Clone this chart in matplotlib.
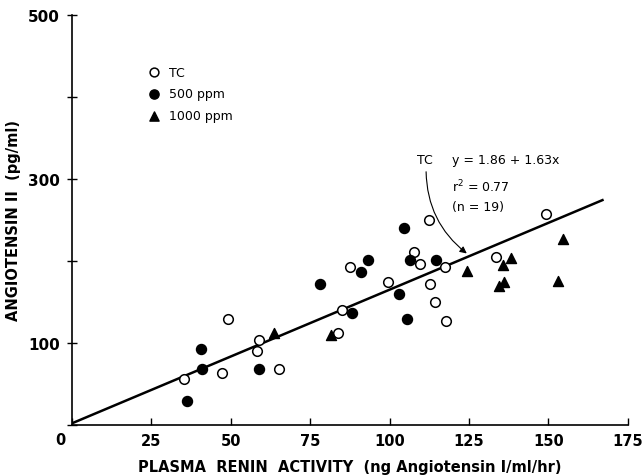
import matplotlib
matplotlib.use("Agg")
import matplotlib.pyplot as plt
import numpy as np

# TC (control) group
tc_x = [35.3, 49.1, 47.2, 58.9, 58.2, 65.3, 83.9, 84.9, 87.6, 99.6,
        107.6, 109.5, 112.5, 112.6, 114.4, 117.5, 117.7, 133.4, 149.1]
tc_y = [56.2, 129.5, 63.1, 103.4, 89.6, 68.0, 112.4, 140.5, 192.2, 174.3,
        210.5, 196.3, 249.6, 172.2, 149.4, 192.6, 126.2, 204.4, 257.7]

# 500 ppm group
p500_x = [36.3, 40.7, 41.0, 58.8, 78.2, 88.3, 91.1, 93.2, 103.1, 104.5,
          105.4, 106.6, 114.6]
p500_y = [29.7, 92.8, 68.0, 68.0, 171.8, 136.8, 186.9, 200.7, 159.2, 240.2,
          129.5, 201.5, 200.7]

# 1000 ppm group
p1000_x = [63.5, 81.6, 124.4, 134.3, 136.1, 135.7, 138.3, 153.0, 154.6]
p1000_y = [112.4, 109.9, 187.3, 169.4, 174.3, 194.6, 204.0, 175.1, 227.2]

# TC regression
fit_a, fit_b = 1.86, 1.63
fit_range = [0, 167]

x_ticks = [0, 25, 50, 75, 100, 125, 150, 175]
y_ticks = [0, 100, 200, 300, 400, 500]
y_tick_labels = ["", "100", "", "300", "", "500"]

fig = plt.figure(figsize=(6.43, 4.77), dpi=100)
ax = fig.add_axes([0.1115, 0.107, 0.865, 0.86])

xf = np.array(fit_range)
ax.plot(xf, fit_a + fit_b * xf, color="black", lw=1.8, zorder=2)

ax.scatter(tc_x, tc_y, s=48, facecolors="white", edgecolors="black",
           linewidths=1.1, zorder=3, clip_on=False)
ax.scatter(p500_x, p500_y, s=52, color="black", zorder=3, clip_on=False)
ax.scatter(p1000_x, p1000_y, s=52, marker="^", color="black", zorder=3,
           clip_on=False)

ax.set_xlim(0, 175)
ax.set_ylim(0, 500)
for s in ["top", "right"]:
    ax.spines[s].set_visible(False)
ax.spines["left"].set_linewidth(1.2)
ax.spines["bottom"].set_linewidth(1.2)

ax.set_xticks(x_ticks)
ax.set_xticklabels([""] + [str(v) for v in x_ticks[1:]])
ax.set_yticks(y_ticks)
ax.set_yticklabels(y_tick_labels)
ax.tick_params(axis="x", direction="in", length=5, width=1, pad=6,
               labelsize=10.5)
ax.tick_params(axis="y", direction="inout", length=7, width=1, pad=5,
               labelsize=11)
for lab in ax.get_xticklabels() + ax.get_yticklabels():
    lab.set_fontweight("bold")

ax.text(-1.8, -8, "0", ha="right", va="top", fontsize=10.5,
        fontweight="bold")

ax.set_xlabel("PLASMA  RENIN  ACTIVITY  (ng Angiotensin I/ml/hr)",
              fontsize=10.5, fontweight="bold", labelpad=8)
ax.set_ylabel("ANGIOTENSIN II  (pg/ml)", fontsize=10.5, fontweight="bold",
              labelpad=5)

# legend drawn by hand
leg_x, leg_tx = 25.8, 30.5
ax.scatter([leg_x], [430], s=40, facecolors="white", edgecolors="black",
           linewidths=1.1)
ax.scatter([leg_x], [404], s=44, color="black")
ax.scatter([leg_x], [377], s=44, marker="^", color="black")
ax.text(leg_tx, 430, "TC", va="center", fontsize=9)
ax.text(leg_tx, 404, "500 ppm", va="center", fontsize=9)
ax.text(leg_tx, 377, "1000 ppm", va="center", fontsize=9)

# fit annotation
ax.text(108.6, 323, "TC", va="center", fontsize=9)
ax.text(119.6, 323, "y = 1.86 + 1.63x", va="center", fontsize=9)
ax.text(119.6, 291.5, r"r$^{2}$ = 0.77", va="center", fontsize=9)
ax.text(119.6, 265.9, "(n = 19)", va="center", fontsize=9)
ax.annotate("", xy=(125.0, 207), xytext=(111.5, 312),
            arrowprops=dict(arrowstyle="-|>", color="black", lw=0.8,
                            mutation_scale=10,
                            connectionstyle="arc3,rad=0.25"))

fig.savefig("out.png", dpi=100)
